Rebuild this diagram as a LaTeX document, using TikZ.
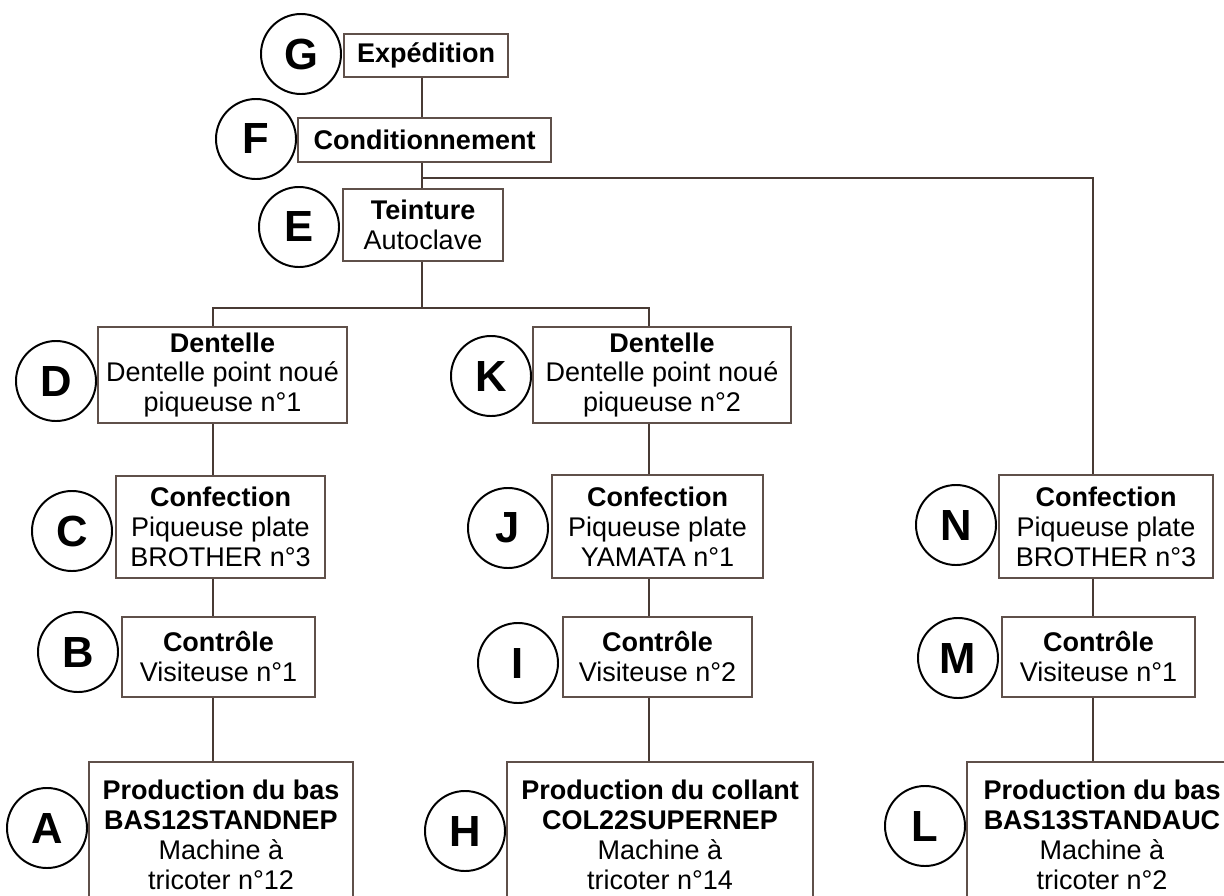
\documentclass[tikz,border=0pt]{standalone}
\usepackage{fontspec}
\setmainfont{Liberation Sans}
\usetikzlibrary{positioning}

\definecolor{trait}{RGB}{72,58,52}
\definecolor{cadre}{RGB}{95,80,74}

\begin{document}
\begin{tikzpicture}[x=0.025cm, y=-0.025cm,
  stepbox/.style={draw=cadre, line width=0.9pt, fill=white, align=center,
    inner sep=0pt, font=\fontsize{19.2}{21.3}\selectfont},
  boxsize/.style 2 args={minimum width=#1*0.025cm, minimum height=#2*0.025cm},
  repere/.style={circle, draw=black, line width=1.4pt, minimum size=2cm,
    inner sep=0pt, font=\fontsize{31}{34}\selectfont\bfseries},
  link/.style={draw=trait, line width=2.1pt}]

% --- Page ---
\clip (0,0) rectangle (1224,895);
\fill[white] (0,0) rectangle (1224,895);

% --- Column axes ---
\coordinate (colE) at (422,0);
\coordinate (colA) at (213,0);
\coordinate (colH) at (649,0);
\coordinate (colL) at (1093,0);
\coordinate (jF) at (422,178);
\coordinate (jE) at (422,308);

% --- Common trunk ---
\node[stepbox, boxsize={164}{43}] (G) at (426,55.5) {\textbf{Expédition}};
\node[stepbox, boxsize={253}{44}] (F) at (424.5,140) {\textbf{Conditionnement}};
\node[stepbox, boxsize={160}{72}] (E) at (423,225) {\textbf{Teinture}\\Autoclave};

% --- Branch A (bas BAS12STANDNEP) ---
\node[stepbox, boxsize={249}{96}] (D) at (222.5,375)
  {\textbf{Dentelle}\\Dentelle point noué\\piqueuse n°1};
\node[stepbox, boxsize={209}{102}] (C) at (220.5,527)
  {\textbf{Confection}\\Piqueuse plate\\BROTHER n°3};
\node[stepbox, boxsize={193}{80}] (B) at (218.5,657)
  {\textbf{Contrôle}\\Visiteuse n°1};
\node[stepbox, boxsize={264}{146}] (A) at (221,835)
  {\textbf{Production du bas}\\\textbf{BAS12STANDNEP}\\Machine à\\tricoter n°12};

% --- Branch H (collant COL22SUPERNEP) ---
\node[stepbox, boxsize={258}{96}] (K) at (662,375)
  {\textbf{Dentelle}\\Dentelle point noué\\piqueuse n°2};
\node[stepbox, boxsize={211}{103}] (J) at (657.5,526.5)
  {\textbf{Confection}\\Piqueuse plate\\YAMATA n°1};
\node[stepbox, boxsize={189}{80}] (I) at (657.5,657)
  {\textbf{Contrôle}\\Visiteuse n°2};
\node[stepbox, boxsize={306}{146}] (H) at (660,835)
  {\textbf{Production du collant}\\\textbf{COL22SUPERNEP}\\Machine à\\tricoter n°14};

% --- Branch L (bas BAS13STANDAUC) ---
\node[stepbox, boxsize={214}{103}] (N) at (1106,526.5)
  {\textbf{Confection}\\Piqueuse plate\\BROTHER n°3};
\node[stepbox, boxsize={193}{80}] (M) at (1098.5,657)
  {\textbf{Contrôle}\\Visiteuse n°1};
\node[stepbox, boxsize={270}{146}] (L) at (1102,835)
  {\textbf{Production du bas}\\\textbf{BAS13STANDAUC}\\Machine à\\tricoter n°2};

% --- Step letters ---
\foreach \n/\x/\y in {G/301/54, F/256/139, E/299/227, D/56/381, K/491/376,
  C/72/531, J/508/528, N/956/525, B/78/652, I/518/663, M/958/658,
  A/47/828, H/465/831, L/925/826}
  \node[repere] (r\n) at (\x,\y) {\n};

% --- Connectors ---
\draw[link] (G.south -| colE) -- (F.north -| colE);
\draw[link] (F.south -| colE) -- (E.north -| colE);
\draw[link] (jF) -| (N.north -| colL);
\draw[link] (E.south -| colE) -- (jE);
\draw[link] (D.north -| colA) |- (jE) -| (K.north -| colH);
\foreach \a/\b/\c in {D/C/colA, C/B/colA, B/A/colA, K/J/colH, J/I/colH,
  I/H/colH, N/M/colL, M/L/colL}
  \draw[link] (\a.south -| \c) -- (\b.north -| \c);

\end{tikzpicture}
\end{document}
